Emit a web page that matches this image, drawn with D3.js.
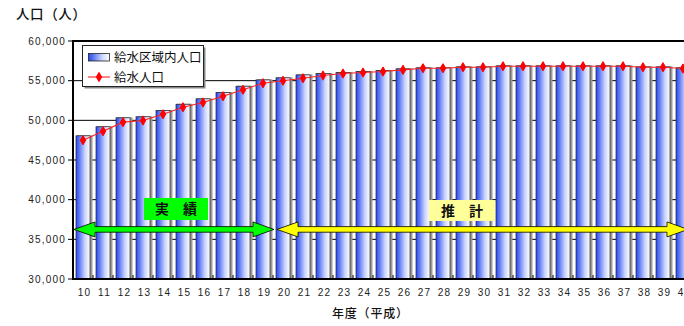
<!DOCTYPE html>
<html>
<head>
<meta charset="utf-8">
<script src="https://cdn.jsdelivr.net/npm/d3@7"></script>
<style>
  html, body { margin: 0; padding: 0; background: #fff; }
  svg { display: block; }
  .num { font-family: "Liberation Sans", Arial, sans-serif; font-size: 10px; letter-spacing: 1.2px; fill: #222; }
  .jp { font-family: "Noto Sans CJK JP", sans-serif; fill: #111; }
</style>
</head>
<body>
<svg id="chart" width="684" height="326"></svg>
<script>
// 年度（平成）
const years = ["10","11","12","13","14","15","16","17","18","19","20",
               "21","22","23","24","25","26","27","28","29","30",
               "31","32","33","34","35","36","37","38","39","40"];

// 給水区域内人口
const areaPop = [48050, 49190, 50320, 50450, 51240, 52030, 52710, 53500, 54300, 55100, 55360,
                 55730, 55900, 56020, 56150, 56280, 56490, 56620, 56620, 56740, 56740,
                 56870, 56870, 56870, 56870, 56870, 56870, 56870, 56740, 56740, 56620];

// 給水人口
const servedPop = [47500, 48630, 49770, 49980, 50770, 51650, 52250, 53040, 53850, 54680, 54980,
                   55310, 55650, 55900, 56020, 56150, 56360, 56570, 56570, 56690, 56690,
                   56820, 56820, 56820, 56820, 56820, 56820, 56820, 56690, 56690, 56530];

const yTicks = [30000, 35000, 40000, 45000, 50000, 55000, 60000];

// 実績 / 推計 の期間
const periods = [
  { label: "実　績", from: "10", to: "19" },
  { label: "推　計", from: "20", to: "40" }
];

const svg = d3.select("#chart");
const plotL = 73, plotT = 41, plotB = 279, plotR = 693;

const x = d3.scaleBand().domain(years).range([plotL, plotR]).paddingInner(0.3).paddingOuter(0.15);
const step = x.step();
const gap = (step - x.bandwidth()) / 2;
const y = d3.scaleLinear().domain([30000, 60000]).range([plotB, plotT]);

// bar gradient: strong blue on the left fading to white
const defs = svg.append("defs");
const grad = defs.append("linearGradient").attr("id", "barGrad")
  .attr("x1", "0").attr("x2", "1").attr("y1", "0").attr("y2", "0");
grad.append("stop").attr("offset", "0").attr("stop-color", "#2a4af2");
grad.append("stop").attr("offset", "0.2").attr("stop-color", "#5470f5");
grad.append("stop").attr("offset", "0.65").attr("stop-color", "#cdd6fd");
grad.append("stop").attr("offset", "1").attr("stop-color", "#ffffff");

// gridlines
svg.append("g").selectAll("line").data(yTicks.filter(t => t > 30000)).join("line")
  .attr("x1", plotL).attr("x2", 684)
  .attr("y1", d => y(d)).attr("y2", d => y(d))
  .attr("stroke", "#000").attr("stroke-width", d => d === 60000 ? 2.2 : 1);

// bars with a grey drop edge on the right
const bars = svg.append("g");
bars.selectAll("rect.shadow").data(areaPop).join("rect").attr("class", "shadow")
  .attr("x", (d, i) => x(years[i]) + 1)
  .attr("y", d => y(d) - 0.5)
  .attr("width", x.bandwidth() + 1.5)
  .attr("height", d => plotB - y(d) + 0.5)
  .attr("fill", "#9a9a9a");
bars.selectAll("rect.bar").data(areaPop).join("rect").attr("class", "bar")
  .attr("x", (d, i) => x(years[i]))
  .attr("y", d => y(d))
  .attr("width", x.bandwidth())
  .attr("height", d => plotB - y(d))
  .attr("fill", "url(#barGrad)")
  .attr("stroke", "#222").attr("stroke-width", 0.7);

// 給水人口 line
const cx = (d, i) => x(years[i]) + x.bandwidth() / 2;
svg.append("path").datum(servedPop)
  .attr("d", d3.line().x(cx).y(d => y(d)))
  .attr("fill", "none").attr("stroke", "#ff2020").attr("stroke-width", 1.1);
const marker = d3.symbol().type(d3.symbolDiamond).size(20);
svg.append("g").selectAll("path").data(servedPop).join("path")
  .attr("transform", (d, i) => `translate(${cx(d, i)},${y(d)})`)
  .attr("d", marker).attr("fill", "#ff0000").attr("stroke", "#ff0000").attr("stroke-width", 1.4)
  .attr("stroke-linejoin", "round");

// axes
svg.append("line").attr("x1", plotL).attr("x2", plotL).attr("y1", plotT - 1).attr("y2", plotB + 1)
  .attr("stroke", "#000").attr("stroke-width", 2);
svg.append("line").attr("x1", plotL - 1).attr("x2", 684).attr("y1", plotB).attr("y2", plotB)
  .attr("stroke", "#000").attr("stroke-width", 2);
svg.append("g").selectAll("line").data(yTicks).join("line")
  .attr("x1", plotL - 5).attr("x2", plotL)
  .attr("y1", d => y(d)).attr("y2", d => y(d))
  .attr("stroke", "#000").attr("stroke-width", 1);
svg.append("g").selectAll("line").data(years.slice(1)).join("line")
  .attr("x1", d => x(d) - gap).attr("x2", d => x(d) - gap)
  .attr("y1", plotB - 4).attr("y2", plotB)
  .attr("stroke", "#000").attr("stroke-width", 1);

// tick labels
svg.append("g").selectAll("text").data(yTicks).join("text")
  .attr("class", "num")
  .attr("x", 66).attr("y", d => y(d) + 3.5)
  .attr("text-anchor", "end")
  .text(d3.format(","));
svg.append("g").selectAll("text").data(years).join("text")
  .attr("class", "num")
  .attr("x", d => x(d) + x.bandwidth() / 2 + 1.5).attr("y", 296)
  .attr("text-anchor", "middle")
  .text(d => d);

// axis titles
svg.append("text").attr("class", "jp").attr("x", 16).attr("y", 19)
  .attr("font-size", 13.5).attr("font-weight", 500).attr("letter-spacing", 0.6).text("人口（人）");
svg.append("text").attr("class", "jp").attr("x", 332).attr("y", 318)
  .attr("font-size", 12).attr("font-weight", 500).attr("letter-spacing", 0.8).text("年度（平成）");

// period arrows
const arrowY = y(36250);
function arrowPath(x0, x1, yc) {
  const hl = 21, hh = 7.5, sh = 2.8;
  return `M${x0},${yc} L${x0 + hl},${yc - hh} L${x0 + hl},${yc - sh} L${x1 - hl},${yc - sh}
          L${x1 - hl},${yc - hh} L${x1},${yc} L${x1 - hl},${yc + hh} L${x1 - hl},${yc + sh}
          L${x0 + hl},${yc + sh} L${x0 + hl},${yc + hh} Z`;
}
const arrowStyle = [
  { fill: "#00ff00", box: "#00ff00", x0: plotL + 1, x1: x("19") + x.bandwidth() + gap + 1, bx: 144, bw: 64, by: 198, bh: 22 },
  { fill: "#ffff00", box: "#ffff99", x0: x("20") - gap + 4, x1: 688, bx: 429, bw: 66, by: 200, bh: 21 }
];
periods.forEach((p, i) => {
  const s = arrowStyle[i];
  svg.append("path").attr("d", arrowPath(s.x0, s.x1, arrowY))
    .attr("fill", s.fill).attr("stroke", "#000").attr("stroke-width", 0.8).attr("stroke-linejoin", "miter");
  svg.append("rect").attr("x", s.bx).attr("y", s.by).attr("width", s.bw).attr("height", s.bh).attr("fill", s.box);
  svg.append("text").attr("class", "jp").attr("x", s.bx + s.bw / 2).attr("y", s.by + s.bh / 2 + 5)
    .attr("text-anchor", "middle").attr("font-size", 14).attr("font-weight", "bold").text(p.label);
});

// legend
const lg = svg.append("g");
lg.append("rect").attr("x", 84.5).attr("y", 47.5).attr("width", 121).attr("height", 41).attr("fill", "#888");
lg.append("rect").attr("x", 82.5).attr("y", 45.5).attr("width", 121).attr("height", 41)
  .attr("fill", "#fff").attr("stroke", "#222").attr("stroke-width", 1);
lg.append("rect").attr("x", 88.5).attr("y", 53.5).attr("width", 21).attr("height", 7.5)
  .attr("fill", "url(#barGrad)").attr("stroke", "#222").attr("stroke-width", 0.8);
lg.append("line").attr("x1", 88).attr("x2", 110).attr("y1", 77).attr("y2", 77)
  .attr("stroke", "#ff2020").attr("stroke-width", 1.1);
lg.append("path").attr("transform", "translate(99,77)").attr("d", marker)
  .attr("fill", "#ff0000").attr("stroke", "#ff0000").attr("stroke-width", 1.4).attr("stroke-linejoin", "round");
lg.append("text").attr("class", "jp").attr("x", 114).attr("y", 62).attr("font-size", 12.5).text("給水区域内人口");
lg.append("text").attr("class", "jp").attr("x", 114).attr("y", 82).attr("font-size", 12.5).text("給水人口");
</script>
</body>
</html>
